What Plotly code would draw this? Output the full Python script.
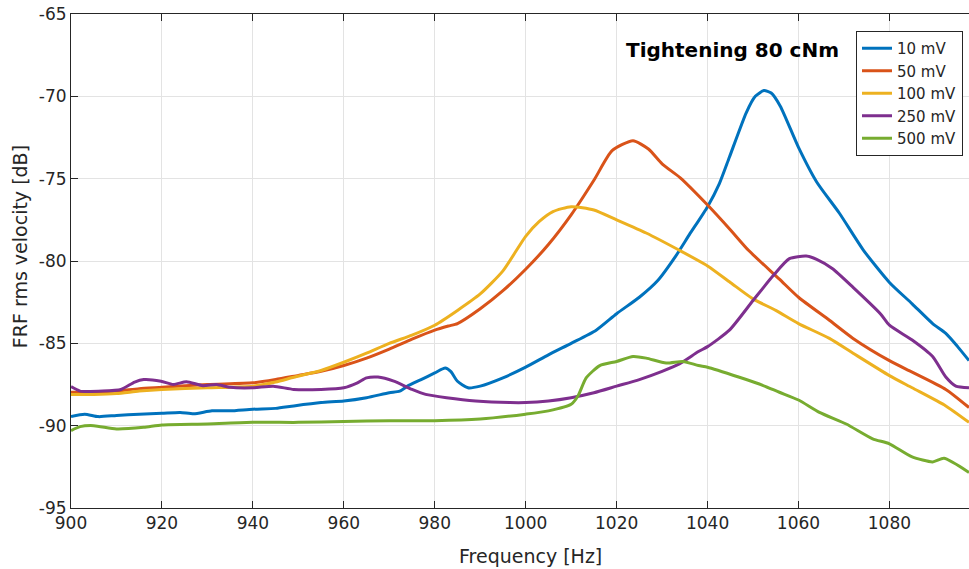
import plotly.graph_objects as go

# ---------------- data ----------------
f_10 = [900, 903, 906, 910, 915, 920, 924, 927, 931, 935, 940, 945, 949, 955, 960, 965, 970, 972.3, 974, 977,
        980, 982.3, 983.5, 985, 987.3, 990, 995, 1000, 1005, 1010, 1015.5, 1020, 1025, 1029, 1033, 1036, 1040,
        1042.6, 1044.8, 1048.5, 1050.5, 1052.4, 1054, 1056, 1060, 1064, 1069, 1074.3, 1080, 1085, 1089.5,
        1092.4, 1095, 1097.5]
v_10 = [-89.45, -89.3, -89.45, -89.38, -89.3, -89.25, -89.2, -89.28, -89.1, -89.1, -89.0, -88.95, -88.8, -88.6,
        -88.5, -88.3, -88.0, -87.9, -87.6, -87.2, -86.8, -86.5, -86.7, -87.3, -87.7, -87.6, -87.1, -86.45, -85.7,
        -85.0, -84.2, -83.2, -82.2, -81.2, -79.7, -78.4, -76.7, -75.3, -73.7, -71.0, -70.0, -69.65, -69.8, -70.6,
        -73.1, -75.2, -77.1, -79.35, -81.3, -82.6, -83.8, -84.4, -85.2, -86.05]

f_50 = [900, 905, 910, 915, 920, 930, 940, 945, 950, 955, 960, 965, 970, 975, 980, 983, 985, 990, 995, 1000,
        1005, 1010, 1015, 1019, 1023.6, 1027, 1030, 1034, 1040, 1045, 1049, 1055.8, 1060, 1066.8, 1072, 1080,
        1085, 1092.4, 1097.5]
v_50 = [-87.97, -87.95, -87.9, -87.75, -87.67, -87.5, -87.4, -87.2, -86.95, -86.7, -86.35, -85.9, -85.35,
        -84.75, -84.2, -83.95, -83.8, -82.9, -81.8, -80.5, -79.0, -77.2, -75.1, -73.3, -72.7, -73.2, -74.1,
        -74.95, -76.6, -78.1, -79.35, -81.1, -82.2, -83.6, -84.7, -86.05, -86.75, -87.8, -88.9]

f_100 = [900, 905, 910, 915, 920, 930, 940, 945, 949, 955, 960, 965, 970, 975, 980, 985, 990, 995, 1000, 1003,
         1006, 1010, 1015, 1020, 1026.5, 1033.8, 1040, 1045, 1050, 1055, 1060, 1066.8, 1072, 1080, 1085, 1092.4,
         1097.5]
v_100 = [-88.1, -88.1, -88.05, -87.9, -87.8, -87.7, -87.6, -87.35, -87.06, -86.65, -86.15, -85.6, -85.0, -84.5,
         -83.9, -83.0, -82.0, -80.6, -78.5, -77.6, -77.0, -76.7, -76.9, -77.5, -78.3, -79.35, -80.3, -81.3, -82.3,
         -83.0, -83.8, -84.7, -85.6, -86.96, -87.7, -88.8, -89.8]

f_250 = [900, 902, 907, 911, 914, 916, 919.8, 922.5, 925.4, 929, 932, 935, 940, 944.5, 949, 955, 960, 963, 965,
         967.5, 971, 975, 978, 982.6, 989, 996.5, 1000, 1005, 1010, 1015, 1020, 1025, 1030, 1033.8, 1038, 1040,
         1044.8, 1050, 1054.4, 1058, 1061.7, 1064, 1067.5, 1072, 1078, 1080, 1085, 1089.5, 1092.4, 1094.6, 1097.5]
v_250 = [-87.63, -87.9, -87.9, -87.8, -87.35, -87.2, -87.3, -87.5, -87.33, -87.57, -87.5, -87.67, -87.7, -87.6,
         -87.8, -87.8, -87.7, -87.4, -87.1, -87.05, -87.3, -87.8, -88.1, -88.3, -88.5, -88.6, -88.6, -88.5, -88.3,
         -88.0, -87.6, -87.2, -86.7, -86.25, -85.5, -85.2, -84.2, -82.4, -80.9, -79.86, -79.7, -79.9, -80.47,
         -81.6, -83.2, -83.9, -84.8, -85.8, -87.05, -87.6, -87.7]

f_500 = [900, 902, 905, 910, 916, 920, 930, 940, 950, 960, 970, 980, 990, 1000, 1005, 1010, 1011.5, 1013.3,
         1016.3, 1020, 1023.6, 1026.5, 1030.9, 1034.6, 1038, 1040, 1047, 1051.4, 1055.8, 1060, 1064.6, 1070.5,
         1076.3, 1080, 1085, 1089.5, 1092, 1097.5]
v_500 = [-90.3, -90.06, -90.0, -90.2, -90.1, -89.96, -89.9, -89.8, -89.8, -89.75, -89.7, -89.7, -89.6, -89.3,
         -89.1, -88.7, -88.2, -87.1, -86.35, -86.1, -85.8, -85.9, -86.2, -86.1, -86.35, -86.45, -87.06, -87.47,
         -87.97, -88.44, -89.19, -89.9, -90.8, -91.1, -91.9, -92.2, -91.98, -92.84]

series_names = ["10 mV", "50 mV", "100 mV", "250 mV", "500 mV"]
series_f = [f_10, f_50, f_100, f_250, f_500]
series_v = [v_10, v_50, v_100, v_250, v_500]
colors = ["#0072BD", "#D95319", "#EDB120", "#7E2F8E", "#77AC30"]

x_ticks = [900, 920, 940, 960, 980, 1000, 1020, 1040, 1060, 1080]
y_ticks = [-95, -90, -85, -80, -75, -70, -65]

annotation_text = "Tightening 80 cNm"
x_title = "Frequency [Hz]"
y_title = "FRF rms velocity [dB]"

# ---------------- figure ----------------
FONT = "DejaVu Sans"
TXT = "#262626"

fig = go.Figure()
for name, f, v, c in zip(series_names, series_f, series_v, colors):
    fig.add_trace(go.Scatter(x=f, y=v, mode="lines", name=name,
                             line=dict(color=c, width=3, shape="spline", smoothing=0.6)))

fig.update_layout(
    width=969, height=569,
    margin=dict(l=71, r=0, t=14, b=61),
    paper_bgcolor="white", plot_bgcolor="white",
    font=dict(family=FONT, color=TXT, size=17),
    showlegend=True,
    legend=dict(x=0.9933, xanchor="right", y=0.9656, yanchor="top",
                bgcolor="white", bordercolor=TXT, borderwidth=1,
                font=dict(family=FONT, size=15, color=TXT),
                itemwidth=30),
    annotations=[
        dict(text="<b>" + annotation_text + "</b>", x=0.7366, y=0.927,
             xref="paper", yref="paper", showarrow=False,
             xanchor="center", yanchor="middle",
             font=dict(family=FONT, size=20, color="black")),
        dict(text=x_title, x=0.5122, y=-0.097, xref="paper", yref="paper",
             showarrow=False, xanchor="center", yanchor="middle",
             font=dict(family=FONT, size=19, color=TXT)),
        dict(text=y_title, x=-0.0568, y=0.53, xref="paper", yref="paper",
             showarrow=False, xanchor="center", yanchor="middle", textangle=-90,
             font=dict(family=FONT, size=19, color=TXT)),
    ],
)

fig.update_xaxes(range=[900, 1097.5], tickvals=x_ticks, ticktext=[str(t) for t in x_ticks],
                 showgrid=True, gridcolor="#e3e3e3", gridwidth=1,
                 showline=True, linecolor=TXT, linewidth=1, mirror="ticks",
                 ticks="inside", ticklen=7, tickcolor=TXT, tickwidth=1,
                 tickfont=dict(family=FONT, size=17, color=TXT),
                 zeroline=False)
fig.update_yaxes(range=[-95, -65], tickvals=y_ticks, ticktext=[str(t) for t in y_ticks],
                 showgrid=True, gridcolor="#e3e3e3", gridwidth=1,
                 showline=True, linecolor=TXT, linewidth=1,
                 ticks="inside", ticklen=7, tickcolor=TXT, tickwidth=1,
                 tickfont=dict(family=FONT, size=17, color=TXT),
                 zeroline=False)

fig.write_html("out.html", config={"displayModeBar": False},
               post_script="document.body.style.margin='0';document.body.style.overflow='hidden';")
